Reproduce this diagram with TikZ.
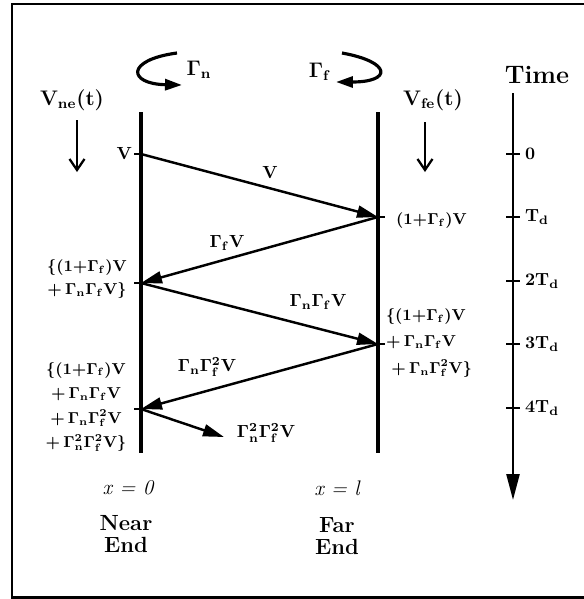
\documentclass[tikz,border=0pt]{standalone}
\usepackage{amsmath,amssymb}
\usepackage{tikz}
\usetikzlibrary{arrows.meta,positioning,calc}

\newcommand{\Gn}{\Gamma_{\mathrm{n}}}
\newcommand{\Gf}{\Gamma_{\mathrm{f}}}
\newcommand{\Td}{\mathrm{T}_{\mathrm{d}}}

\tikzset{
  endline/.style={line width=2.3pt},
  wave/.style={line width=1.4pt,-{Triangle[length=0.42cm,width=0.24cm]}},
  tickmark/.style={line width=1.2pt},
  downarrow/.style={line width=1.3pt,-{Straight Barb[length=0.22cm,width=0.3cm]}},
  loop/.style={line width=1.8pt,-{Triangle[length=0.34cm,width=0.22cm]}},
  lab/.style={font=\bfseries\boldmath, inner sep=1pt},
  stack/.style={font=\small\bfseries\boldmath, inner sep=1pt, align=center},
  big/.style={font=\large\bfseries\boldmath},
  endname/.style={font=\fontsize{12.5}{12.5}\bfseries\selectfont, align=center},
}

\begin{document}
\begin{tikzpicture}[x=0.02cm, y=-0.02cm, every node/.style={font=\bfseries\boldmath}]
        \useasboundingbox (0,0) rectangle (584,599);
        % frame
        \draw[line width=1.7pt] (584,4) -- (12,4) -- (12,597) -- (584,597);
        % near and far ends
        \coordinate (nt) at (141,112);
        \coordinate (nb) at (141,453);
        \coordinate (ft) at (378,112);
        \coordinate (fb) at (378,453);
        \draw[endline] (nt) -- (nb);
        \draw[endline] (ft) -- (fb);
        % bounce points
        \coordinate (n0) at (141,154);
        \coordinate (f1) at (378,217);
        \coordinate (n2) at (141,283);
        \coordinate (f3) at (378,344);
        \coordinate (n4) at (141,409);
        \coordinate (e5) at (224,437);
        \draw[wave] (n0) -- (f1);
        \draw[wave] (f1) -- (n2);
        \draw[wave] (n2) -- (f3);
        \draw[wave] (f3) -- (n4);
        \draw[wave] (n4) -- (e5);
        \foreach \p in {n0,n2,n4}
          \draw[tickmark] (\p) -- ++(-7,0);
        \foreach \p in {f1,f3}
          \draw[tickmark] (\p) -- ++(7,0);
        % wave labels
        \node[lab, anchor=east] (vn0) at (134,154) {V};
        \node[lab] (v01) at (270,173) {V};
        \node[stack, anchor=west] (vf1) at (394,221) {$(1{+}\Gf)$V};
        \node[lab] (v12) at (227,243) {$\Gf$V};
        \node[stack] (vn2) at (87,279) {\{$(1{+}\Gf)$V\\[2pt]$+\,\Gn\Gf$V\}};
        \node[lab] (v23) at (318,302) {$\Gn\Gf$V};
        \node[stack, align=left, anchor=west] (vf3) at (384,343)
          {\{$(1{+}\Gf)$V\\[4pt]$+\,\Gn\Gf$V\\[4pt]\hspace{3pt}$+\,\Gn\Gf^2$V\}};
        \node[lab] (v34) at (207,367) {$\Gn\Gf^2$V};
        \node[stack] (vn4) at (86,407)
          {\{$(1{+}\Gf)$V\\[3pt]$+\,\Gn\Gf$V\\[3pt]$+\,\Gn\Gf^2$V\\[3pt]$+\,\Gn^2\Gf^2$V\}};
        \node[lab] (v45) at (266,433) {$\Gn^2\Gf^2$V};
        % reflection loops
        \node[big] (gn) at (199,70) {$\Gn$};
        \node[big] (gf) at (320,72) {$\Gf$};
        \coordinate (gna) at (177,53);
        \coordinate (gnb) at (182,85);
        \coordinate (gfa) at (342,53);
        \coordinate (gfb) at (336,82);
        \draw[loop] (gna) .. controls (125,60) and (128,84) .. (gnb);
        \draw[loop] (gfa) .. controls (392,62) and (392,82) .. (gfb);
        % end voltages
        \node[big] (vne) at (72,100) {V$_{\mathrm{ne}}$(t)};
        \node[big] (vfe) at (433,100) {V$_{\mathrm{fe}}$(t)};
        \coordinate (vnea) at (77,120);
        \coordinate (vneb) at (77,172);
        \coordinate (vfea) at (425,122);
        \coordinate (vfeb) at (425,172);
        \draw[downarrow] (vnea) -- (vneb);
        \draw[downarrow] (vfea) -- (vfeb);
        % time axis
        \node[font=\Large\bfseries] (time) at (537,75) {Time};
        \coordinate (tt) at (513,93);
        \coordinate (tb) at (513,500);
        \draw[line width=1.4pt,-{Triangle[length=0.52cm,width=0.26cm]}] (tt) -- (tb);
        \foreach \y/\t [count=\i] in {154/0,217/$\Td$,281/$2\Td$,344/$3\Td$,408/$4\Td$} {
          \draw[tickmark] (506,\y) -- (520,\y);
          \node[lab, anchor=west] (t\i) at (523,\y) {\t};
        }
        % positions
        \node[font=\large\itshape] (x0) at (128,488) {x = 0};
        \node[font=\large\itshape] (xl) at (337,488) {x = l};
        \node[endname] (near) at (126,534) {Near\\End};
        \node[endname] (far) at (337,536) {Far\\End};
      \end{tikzpicture}
\end{document}
